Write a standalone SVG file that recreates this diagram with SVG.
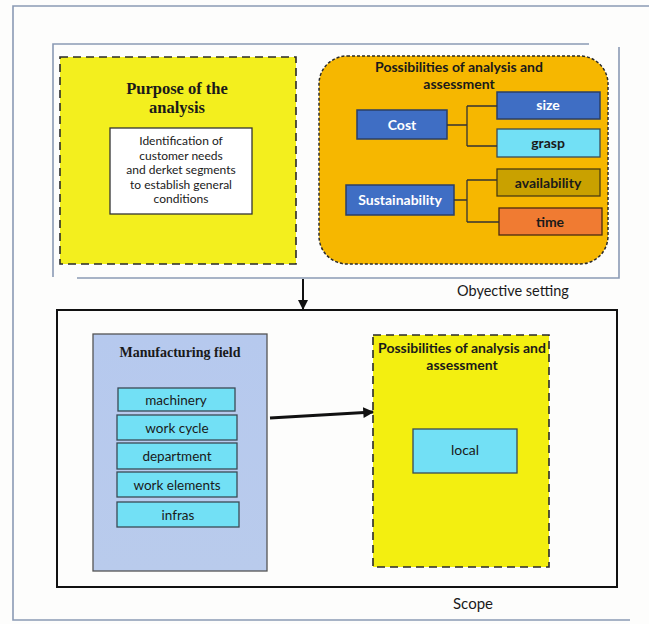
<svg xmlns="http://www.w3.org/2000/svg" width="649" height="624" viewBox="0 0 649 624">
<defs>
<marker id="ah" viewBox="0 0 10 10" refX="9" refY="5" markerWidth="5" markerHeight="5" orient="auto" markerUnits="strokeWidth"><path d="M0,0 L10,5 L0,10 z" fill="#111"/></marker>
<marker id="ah2" viewBox="0 0 10 10" refX="9" refY="5" markerWidth="4" markerHeight="3.6" orient="auto" markerUnits="strokeWidth"><path d="M0,0 L10,5 L0,10 z" fill="#111"/></marker>
<linearGradient id="mg" x1="0" y1="0" x2="0" y2="1"><stop offset="0" stop-color="#b6c9ee"/><stop offset="1" stop-color="#b9cbec"/></linearGradient>
</defs>
<style>
.frame{fill:none;stroke:#8a9ab4;stroke-width:1.6}
.dash{stroke:#2a2a2a;stroke-width:1.6;stroke-dasharray:8 5}
.dot{stroke:#2a2a2a;stroke-width:1.5;stroke-dasharray:3 2}
.blue{fill:#3f6ec4;stroke:#2b3f66;stroke-width:1.5}
.cyan{fill:#72e0f5;stroke:#3a4a55;stroke-width:1.3}
.sans{font-family:Lato,"Open Sans","Liberation Sans",sans-serif}
.serif{font-family:"Liberation Serif","DejaVu Serif",serif;font-weight:bold}
.wb{fill:#ffffff;font-weight:bold;font-size:14px}
.db{fill:#1a1a1a;font-weight:bold;font-size:14px}
.conn{fill:none;stroke:#333;stroke-width:1.3}
</style>
<rect width="649" height="624" fill="#fdfdfc"/>
<path class="frame" d="M649,6 L13,6 L13,620 L630,620"/>
<g id="objective-frame">
<path class="frame" d="M589,44 L53,44 L53,277"/>
<path class="frame" d="M619,47 L619,278 L77,278"/>
<text class="sans" x="457" y="296" font-size="14.5" fill="#1a1a1a">Obyective setting</text>
</g>
<g id="purpose">
<rect x="60" y="57" width="236" height="207" fill="#f3ef1e" class="dash"/>
<text class="serif" x="177" y="94" font-size="16.5" fill="#1a1a1a" text-anchor="middle">Purpose of the</text>
<text class="serif" x="177" y="113" font-size="16.5" fill="#1a1a1a" text-anchor="middle">analysis</text>
<rect x="110" y="128" width="142" height="86" fill="#ffffff" stroke="#333" stroke-width="1.3"/>
<text class="sans" x="181" y="145" font-size="12" fill="#1a1a1a" text-anchor="middle">Identification of</text>
<text class="sans" x="181" y="159.5" font-size="12" fill="#1a1a1a" text-anchor="middle">customer needs</text>
<text class="sans" x="181" y="174" font-size="12" fill="#1a1a1a" text-anchor="middle">and derket segments</text>
<text class="sans" x="181" y="188.5" font-size="12" fill="#1a1a1a" text-anchor="middle">to establish general</text>
<text class="sans" x="181" y="203" font-size="12" fill="#1a1a1a" text-anchor="middle">conditions</text>
</g>
<g id="possibilities-top">
<rect x="319" y="56" width="289" height="208" rx="28" ry="28" fill="#f6b700" class="dot"/>
<text class="sans db" x="459" y="72" font-size="13.5" text-anchor="middle">Possibilities of analysis and</text>
<text class="sans db" x="459" y="89" font-size="13.5" text-anchor="middle">assessment</text>
</g>
<g id="cost"><rect class="blue" x="357" y="110" width="90" height="29"/><text class="sans wb" x="402" y="130" text-anchor="middle">Cost</text></g>
<g id="size"><rect class="blue" x="497" y="92" width="103" height="27"/><text class="sans wb" x="548" y="110" text-anchor="middle">size</text></g>
<g id="grasp"><rect class="cyan" x="497" y="129" width="103" height="28"/><text class="sans db" x="548" y="148" text-anchor="middle">grasp</text></g>
<g id="sustainability"><rect class="blue" x="346" y="185" width="108" height="30"/><text class="sans wb" x="400" y="205" text-anchor="middle">Sustainability</text></g>
<g id="availability"><rect x="497" y="169" width="103" height="27" fill="#c9a100" stroke="#4a3c10" stroke-width="1.3"/><text class="sans db" x="548" y="188" text-anchor="middle">availability</text></g>
<g id="time"><rect x="499" y="208" width="103" height="27" fill="#f07b32" stroke="#4a2a10" stroke-width="1.3"/><text class="sans db" x="550" y="227" text-anchor="middle">time</text></g>
<g id="scope-frame">
<rect x="57" y="310" width="560" height="277" fill="none" stroke="#111" stroke-width="2"/>
<text class="sans" x="473" y="609" font-size="15" fill="#1a1a1a" text-anchor="middle">Scope</text>
</g>
<g id="manufacturing">
<rect x="93" y="334" width="174" height="237" fill="url(#mg)" stroke="#555" stroke-width="1.3"/>
<text class="serif" x="180" y="357" font-size="14" fill="#1a1a1a" text-anchor="middle">Manufacturing field</text>
</g>
<g id="machinery"><rect class="cyan" x="118" y="388" width="117" height="23"/><text class="sans" x="176" y="405" font-size="13.5" fill="#1a1a1a" text-anchor="middle">machinery</text></g>
<g id="work-cycle"><rect class="cyan" x="117" y="415" width="120" height="25"/><text class="sans" x="177" y="433" font-size="13.5" fill="#1a1a1a" text-anchor="middle">work cycle</text></g>
<g id="department"><rect class="cyan" x="117" y="443" width="120" height="26"/><text class="sans" x="177" y="461" font-size="13.5" fill="#1a1a1a" text-anchor="middle">department</text></g>
<g id="work-elements"><rect class="cyan" x="117" y="472" width="120" height="25"/><text class="sans" x="177" y="490" font-size="13.5" fill="#1a1a1a" text-anchor="middle">work elements</text></g>
<g id="infras"><rect class="cyan" x="117" y="502" width="122" height="25"/><text class="sans" x="178" y="520" font-size="13.5" fill="#1a1a1a" text-anchor="middle">infras</text></g>
<g id="possibilities-bottom">
<rect x="373" y="335" width="176" height="232" fill="#f3ef10" class="dash"/>
<text class="sans db" x="462" y="353" font-size="13.5" text-anchor="middle">Possibilities of analysis and</text>
<text class="sans db" x="462" y="370" font-size="13.5" text-anchor="middle">assessment</text>
</g>
<g id="local"><rect class="cyan" x="413" y="429" width="104" height="44"/><text class="sans" x="465" y="455" font-size="14" fill="#1a1a1a" text-anchor="middle">local</text></g>
<g id="connectors">
<path class="conn" d="M447,125 H467 M467,106 V146 M467,106 H497 M467,146 H497"/>
<path class="conn" d="M454,200 H467 M467,180 V222 M467,180 H497 M467,222 H499"/>
<line x1="303" y1="279" x2="303" y2="309" stroke="#111" stroke-width="2" marker-end="url(#ah)"/>
<line x1="270" y1="418" x2="373" y2="412" stroke="#111" stroke-width="3" marker-end="url(#ah2)"/>
</g>
</svg>
